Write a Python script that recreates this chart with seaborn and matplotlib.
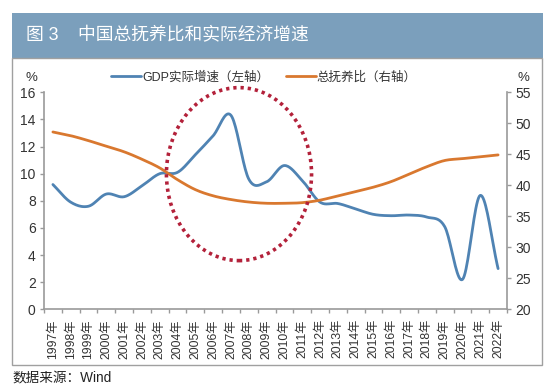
import numpy as np
import pandas as pd
import matplotlib
matplotlib.use("Agg")
import matplotlib.pyplot as plt
from matplotlib.patches import Rectangle, Ellipse
import seaborn as sns

years = [str(y) + "年" for y in range(1997, 2023)]
gdp_growth = [9.2, 7.9, 7.6, 8.5, 8.3, 9.1, 10.0, 10.1, 11.4, 12.8, 14.3, 9.6,
              9.4, 10.6, 9.5, 7.9, 7.8, 7.4, 7.0, 6.9, 6.95, 6.8, 6.1, 2.2, 8.4, 3.0]
dependency = [48.6, 48.0, 47.2, 46.3, 45.4, 44.2, 42.8, 40.9, 39.3, 38.3, 37.7, 37.3,
              37.1, 37.1, 37.2, 37.6, 38.3, 39.0, 39.7, 40.6, 41.8, 43.0, 44.0, 44.3, 44.6, 44.9]
left_ticks = [0, 2, 4, 6, 8, 10, 12, 14, 16]
right_ticks = [20, 25, 30, 35, 40, 45, 50, 55]
title = "图 3    中国总抚养比和实际经济增速"
source = "数据来源：Wind"
label_gdp = "GDP实际增速（左轴）"
label_dep = "总抚养比（右轴）"

sns.set_theme(style="white")
plt.rcParams['font.family'] = ['Liberation Sans', 'Noto Sans CJK SC', 'DejaVu Sans']

BLUE = "#4f83b3"
ORANGE = "#d9782f"
GRAY = "#9a9a9a"
TXT = "#333333"


def catmull(xs, ys, n=20):
    xs = np.asarray(xs, float); ys = np.asarray(ys, float)
    px = np.concatenate([[2*xs[0]-xs[1]], xs, [2*xs[-1]-xs[-2]]])
    py = np.concatenate([[2*ys[0]-ys[1]], ys, [2*ys[-1]-ys[-2]]])
    ox, oy = [], []
    for i in range(1, len(px)-2):
        t = np.linspace(0, 1, n, endpoint=False)
        for p, o in ((px, ox), (py, oy)):
            p0, p1, p2, p3 = p[i-1], p[i], p[i+1], p[i+2]
            o.extend(0.5*((2*p1) + (-p0+p2)*t + (2*p0-5*p1+4*p2-p3)*t**2 + (-p0+3*p1-3*p2+p3)*t**3))
    ox.append(xs[-1]); oy.append(ys[-1])
    return np.array(ox), np.array(oy)


idx = np.arange(len(years))
gx, gy = catmull(idx, gdp_growth)
dx, dy = catmull(idx, dependency)
df_g = pd.DataFrame({"x": gx, "y": gy})
df_d = pd.DataFrame({"x": dx, "y": dy})

W, H = 550, 391
fig = plt.figure(figsize=(W/100, H/100), dpi=100)
fig.patch.set_facecolor("white")

# title bar and frame
fig.add_artist(Rectangle((12/W, 1-58/H), 531/W, 45/H, transform=fig.transFigure,
                         facecolor="#7b9fbc", edgecolor="none", zorder=0))
fig.add_artist(Rectangle((12/W, 1-365/H), 530/W, 307/H, transform=fig.transFigure,
                         facecolor="none", edgecolor="#a0a0a0", lw=1.0, zorder=0))
fig.text(26/W, 1-36/H, title, color="white", fontsize=12.8, va="center", ha="left")
fig.text(12/W, 1-378/H, source, color="#222222", fontsize=9.8, va="center", ha="left")

ax = fig.add_axes([44/W, 1-309.3/H, 463/W, 217/H])
ax.set_facecolor("none")
ax2 = ax.twinx()

sns.lineplot(data=df_g, x="x", y="y", ax=ax, color=BLUE, lw=2.0, sort=False,
             estimator=None, label=label_gdp, legend=False)
sns.lineplot(data=df_d, x="x", y="y", ax=ax2, color=ORANGE, lw=2.0, sort=False,
             estimator=None, label=label_dep, legend=False)

ax.set_xlim(-0.5, len(years)-0.5)
ax.set_ylim(0, 16)
ax2.set_ylim(20, 55)
ax.set_yticks(left_ticks)
ax.set_yticklabels([str(t) for t in left_ticks])
ax2.set_yticks(right_ticks)
ax2.set_yticklabels([str(t) for t in right_ticks])
ax.set_xticks(idx)
ax.set_xticklabels(years, rotation=90)
ax.set_xticks(np.arange(-0.5, len(years)), minor=True)
ax.set_xlabel(""); ax.set_ylabel(""); ax2.set_ylabel("")

for a in (ax, ax2):
    for s in a.spines.values():
        s.set_visible(False)
    a.grid(False)
ax.spines["left"].set_visible(True)
ax.spines["bottom"].set_visible(True)
ax2.spines["right"].set_visible(True)
for s in (ax.spines["left"], ax.spines["bottom"], ax2.spines["right"]):
    s.set_color(GRAY); s.set_linewidth(1.2)

ax.tick_params(axis="y", which="major", left=True, length=3, width=1, color=GRAY,
               labelsize=10, labelcolor=TXT, pad=3)
ax.tick_params(axis="x", which="major", bottom=False, length=0, labelsize=8.8,
               labelcolor=TXT, pad=7)
ax.tick_params(axis="x", which="minor", bottom=True, length=3, width=1, color=GRAY)
ax2.tick_params(axis="y", which="major", right=True, length=3, width=1, color=GRAY,
                labelsize=10, labelcolor=TXT, pad=3)

fig.text(31/W, 1-78/H, "%", fontsize=9.5, color=TXT, ha="center", va="center")
fig.text(523/W, 1-78/H, "%", fontsize=9.5, color=TXT, ha="center", va="center")

# dotted ellipse highlight
ell = Ellipse((10.45, 41.8), 8.15, 27.9, fill=False, edgecolor="#b3213a",
              lw=2.6, ls=(0, (0.9, 1.1)), zorder=5, clip_on=False)
ax2.add_patch(ell)

h1, l1 = ax.get_legend_handles_labels()
h2, l2 = ax2.get_legend_handles_labels()
leg = ax2.legend(h1 + h2, l1 + l2, loc="center", bbox_to_anchor=(0.475, 1.07),
                 ncol=2, frameon=False, fontsize=9, handlelength=2.4,
                 handletextpad=0.1, columnspacing=1.3, borderaxespad=0)
for t in leg.get_texts():
    t.set_color(TXT)

fig.savefig("out.png", dpi=100, facecolor="white")
